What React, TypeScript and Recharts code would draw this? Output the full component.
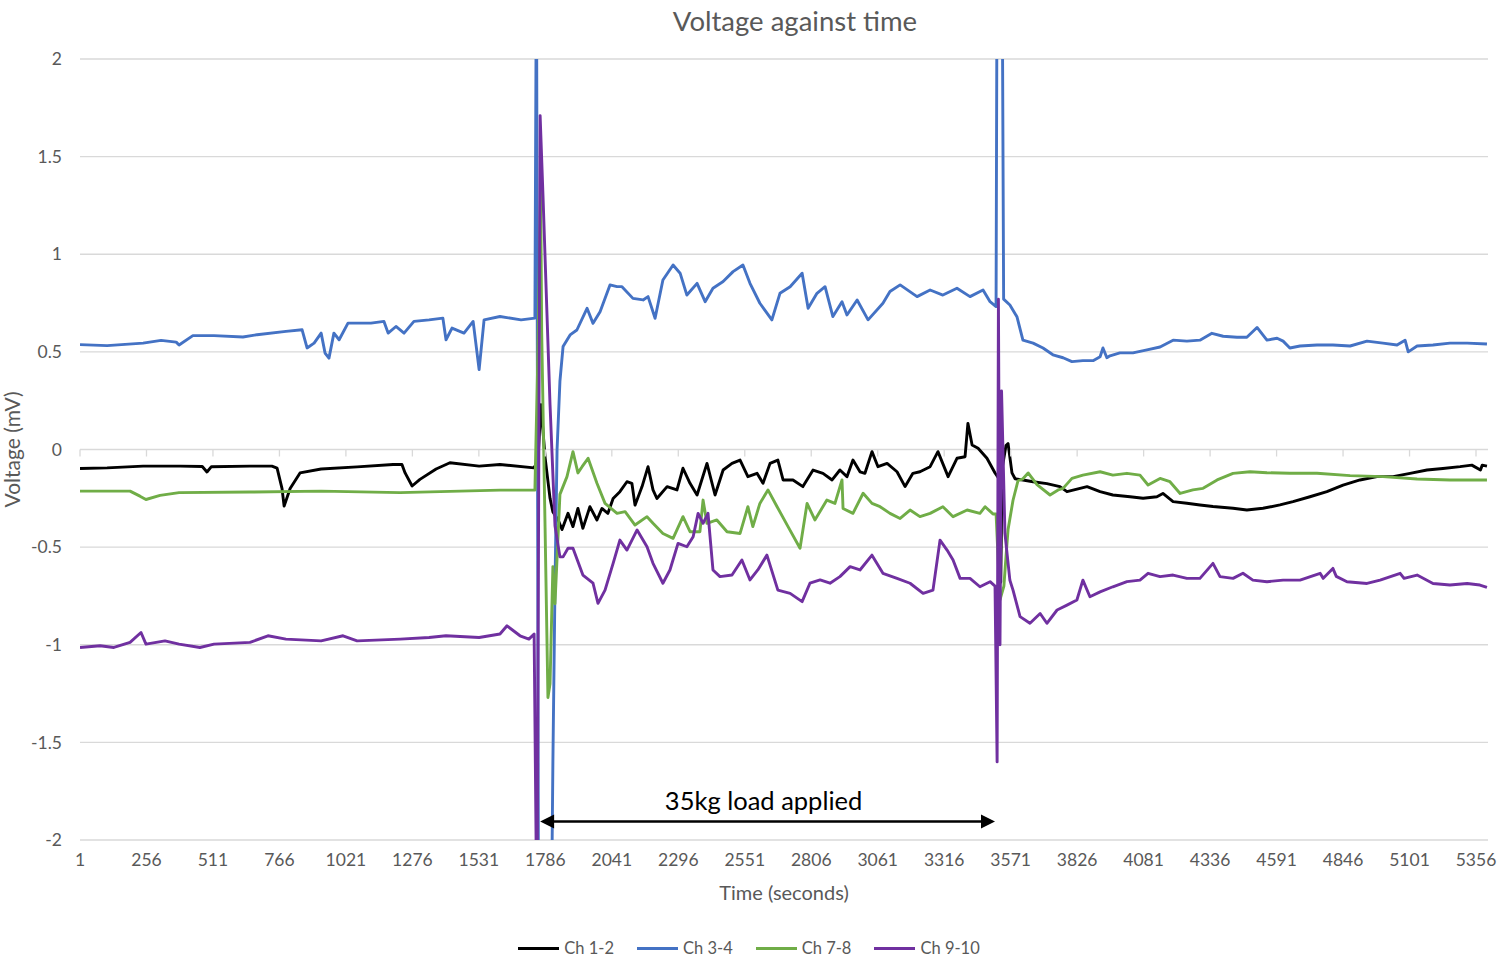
import React from "react";
import {
  LineChart,
  Line,
  XAxis,
  YAxis,
  CartesianGrid,
  Legend,
  Label,
  ReferenceLine,
} from "recharts";

// readings taken off the original plot, time in seconds, voltage in mV
const ch12Times = [1, 105, 243, 385, 470, 488, 505, 653, 737, 757, 776, 784, 807, 845, 926, 1064, 1202, 1236, 1248, 1275, 1305, 1367, 1420, 1532, 1612, 1743, 1758, 1769, 1785, 1804, 1815, 1835, 1850, 1873, 1892, 1911, 1930, 1957, 1984, 2003, 2026, 2046, 2072, 2099, 2118, 2130, 2157, 2180, 2199, 2214, 2253, 2291, 2314, 2341, 2368, 2406, 2437, 2468, 2502, 2533, 2563, 2598, 2621, 2648, 2678, 2698, 2736, 2774, 2813, 2851, 2886, 2916, 2943, 2966, 2993, 3012, 3039, 3062, 3097, 3135, 3166, 3196, 3223, 3262, 3292, 3331, 3365, 3396, 3407, 3423, 3446, 3480, 3511, 3526, 3533, 3538, 3553, 3561, 3576, 3588, 3618, 3657, 3710, 3760, 3787, 3864, 3914, 3963, 4029, 4079, 4132, 4155, 4194, 4247, 4297, 4347, 4424, 4477, 4539, 4604, 4654, 4719, 4784, 4846, 4911, 4976, 5038, 5103, 5168, 5229, 5295, 5340, 5373, 5380, 5398];
const ch12Volts = [-0.097, -0.094, -0.085, -0.085, -0.087, -0.115, -0.088, -0.085, -0.085, -0.095, -0.2, -0.29, -0.2, -0.12, -0.1, -0.089, -0.077, -0.077, -0.12, -0.187, -0.153, -0.1, -0.068, -0.085, -0.077, -0.094, -0.05, 0.23, -0.04, -0.25, -0.32, -0.36, -0.41, -0.327, -0.395, -0.302, -0.404, -0.293, -0.361, -0.302, -0.327, -0.251, -0.216, -0.165, -0.173, -0.285, -0.19, -0.088, -0.207, -0.251, -0.19, -0.207, -0.096, -0.173, -0.233, -0.071, -0.233, -0.105, -0.071, -0.054, -0.139, -0.122, -0.173, -0.071, -0.054, -0.156, -0.156, -0.19, -0.105, -0.122, -0.156, -0.105, -0.139, -0.054, -0.114, -0.122, -0.011, -0.088, -0.071, -0.114, -0.19, -0.122, -0.114, -0.088, -0.011, -0.139, -0.045, -0.037, 0.134, 0.023, 0.006, -0.045, -0.12, -0.15, -0.68, -0.1, 0.02, 0.03, -0.12, -0.15, -0.156, -0.165, -0.175, -0.19, -0.216, -0.19, -0.216, -0.233, -0.242, -0.25, -0.242, -0.225, -0.267, -0.275, -0.284, -0.292, -0.301, -0.31, -0.301, -0.284, -0.267, -0.242, -0.216, -0.182, -0.156, -0.139, -0.139, -0.122, -0.105, -0.097, -0.088, -0.08, -0.105, -0.08, -0.085];

const ch34Times = [1, 105, 243, 312, 370, 381, 434, 515, 626, 680, 791, 853, 872, 899, 926, 941, 956, 975, 995, 1029, 1117, 1167, 1183, 1213, 1244, 1282, 1340, 1393, 1405, 1428, 1474, 1509, 1532, 1551, 1612, 1693, 1746, 1752, 1760, 1808, 1815, 1823, 1831, 1842, 1854, 1881, 1907, 1946, 1969, 1996, 2034, 2061, 2080, 2122, 2161, 2180, 2207, 2237, 2276, 2303, 2329, 2368, 2399, 2429, 2468, 2506, 2544, 2571, 2609, 2655, 2686, 2725, 2771, 2794, 2828, 2859, 2889, 2924, 2943, 2982, 3024, 3081, 3108, 3147, 3212, 3262, 3311, 3365, 3415, 3465, 3492, 3515, 3519, 3538, 3544, 3568, 3595, 3618, 3657, 3695, 3733, 3772, 3806, 3848, 3887, 3914, 3925, 3940, 3952, 3990, 4040, 4094, 4144, 4194, 4247, 4297, 4343, 4386, 4439, 4477, 4516, 4554, 4593, 4616, 4642, 4681, 4746, 4807, 4873, 4938, 4999, 5053, 5084, 5096, 5130, 5191, 5256, 5322, 5398];
const ch34Volts = [0.537, 0.532, 0.545, 0.559, 0.55, 0.535, 0.583, 0.583, 0.576, 0.588, 0.605, 0.613, 0.52, 0.545, 0.596, 0.494, 0.468, 0.596, 0.562, 0.647, 0.647, 0.656, 0.596, 0.63, 0.596, 0.656, 0.664, 0.673, 0.562, 0.622, 0.596, 0.656, 0.409, 0.664, 0.681, 0.664, 0.673, 2.6, -2.6, -2.6, -1.6, -0.7, 0.0, 0.35, 0.527, 0.587, 0.612, 0.723, 0.646, 0.706, 0.843, 0.834, 0.834, 0.774, 0.766, 0.783, 0.672, 0.868, 0.945, 0.903, 0.791, 0.851, 0.757, 0.826, 0.86, 0.911, 0.945, 0.851, 0.749, 0.664, 0.8, 0.834, 0.903, 0.723, 0.8, 0.834, 0.681, 0.757, 0.689, 0.766, 0.664, 0.749, 0.809, 0.843, 0.783, 0.817, 0.791, 0.826, 0.783, 0.817, 0.757, 0.732, 2.6, 2.6, 0.77, 0.74, 0.68, 0.56, 0.545, 0.52, 0.485, 0.47, 0.45, 0.455, 0.455, 0.475, 0.52, 0.47, 0.48, 0.495, 0.495, 0.51, 0.525, 0.56, 0.555, 0.56, 0.595, 0.58, 0.575, 0.575, 0.625, 0.56, 0.57, 0.555, 0.52, 0.53, 0.535, 0.535, 0.53, 0.555, 0.545, 0.535, 0.56, 0.5, 0.53, 0.535, 0.545, 0.545, 0.54];

const ch78Times = [1, 193, 231, 254, 308, 381, 653, 926, 1229, 1612, 1746, 1756, 1768, 1772, 1785, 1796, 1804, 1815, 1823, 1842, 1869, 1892, 1911, 1927, 1950, 1984, 2015, 2061, 2092, 2130, 2176, 2199, 2237, 2276, 2314, 2341, 2379, 2391, 2406, 2444, 2483, 2533, 2563, 2582, 2609, 2640, 2675, 2717, 2763, 2790, 2820, 2866, 2897, 2924, 2928, 2966, 3005, 3039, 3070, 3108, 3147, 3185, 3223, 3262, 3311, 3350, 3404, 3453, 3473, 3503, 3515, 3530, 3545, 3553, 3561, 3580, 3599, 3618, 3638, 3672, 3722, 3753, 3772, 3806, 3848, 3914, 3963, 4017, 4067, 4098, 4144, 4182, 4221, 4270, 4309, 4363, 4424, 4489, 4554, 4642, 4746, 4873, 4999, 5130, 5256, 5398];
const ch78Volts = [-0.213, -0.213, -0.239, -0.256, -0.235, -0.221, -0.218, -0.213, -0.221, -0.208, -0.208, 0.4, 1.33, 0.6, -0.4, -1.27, -1.2, -0.6, -0.79, -0.23, -0.139, -0.011, -0.12, -0.088, -0.045, -0.173, -0.276, -0.327, -0.318, -0.387, -0.344, -0.378, -0.43, -0.455, -0.344, -0.421, -0.421, -0.259, -0.378, -0.361, -0.421, -0.43, -0.293, -0.395, -0.276, -0.207, -0.293, -0.395, -0.506, -0.276, -0.361, -0.259, -0.276, -0.156, -0.302, -0.327, -0.224, -0.276, -0.293, -0.327, -0.353, -0.31, -0.344, -0.327, -0.293, -0.344, -0.31, -0.327, -0.293, -0.33, -0.33, -0.77, -0.7, -0.55, -0.41, -0.26, -0.16, -0.15, -0.12, -0.18, -0.233, -0.207, -0.199, -0.148, -0.131, -0.114, -0.131, -0.122, -0.131, -0.182, -0.148, -0.165, -0.225, -0.207, -0.199, -0.156, -0.122, -0.114, -0.119, -0.122, -0.122, -0.134, -0.139, -0.151, -0.156, -0.156];

const ch910Times = [1, 78, 131, 193, 235, 254, 327, 381, 461, 515, 653, 722, 791, 926, 1010, 1064, 1229, 1340, 1405, 1532, 1612, 1639, 1689, 1723, 1743, 1754, 1766, 1777, 1804, 1823, 1842, 1854, 1873, 1892, 1930, 1969, 1988, 2015, 2046, 2072, 2099, 2138, 2176, 2199, 2237, 2264, 2295, 2329, 2353, 2372, 2391, 2410, 2429, 2456, 2502, 2540, 2571, 2601, 2636, 2678, 2725, 2771, 2801, 2840, 2878, 2916, 2955, 2993, 3039, 3081, 3135, 3185, 3235, 3273, 3300, 3327, 3350, 3377, 3415, 3453, 3492, 3511, 3519, 3524, 3530, 3536, 3549, 3568, 3580, 3607, 3645, 3684, 3710, 3749, 3787, 3825, 3848, 3875, 3914, 3963, 4017, 4067, 4098, 4144, 4194, 4247, 4297, 4347, 4374, 4424, 4462, 4500, 4554, 4616, 4681, 4758, 4770, 4807, 4820, 4861, 4938, 4988, 5065, 5080, 5130, 5191, 5256, 5322, 5371, 5398];
const ch910Volts = [-1.014, -1.005, -1.014, -0.988, -0.937, -0.997, -0.98, -0.997, -1.014, -0.997, -0.988, -0.954, -0.971, -0.98, -0.954, -0.98, -0.971, -0.963, -0.954, -0.963, -0.945, -0.903, -0.954, -0.971, -0.945, -2.5, 1.71, 1.3, 0.23, -0.39, -0.55, -0.55, -0.506, -0.506, -0.643, -0.685, -0.788, -0.72, -0.583, -0.464, -0.515, -0.412, -0.498, -0.583, -0.685, -0.617, -0.481, -0.498, -0.447, -0.327, -0.378, -0.327, -0.617, -0.651, -0.643, -0.566, -0.668, -0.617, -0.541, -0.72, -0.737, -0.779, -0.685, -0.668, -0.685, -0.651, -0.6, -0.617, -0.541, -0.634, -0.66, -0.685, -0.737, -0.72, -0.464, -0.515, -0.566, -0.66, -0.66, -0.703, -0.677, -0.7, -1.6, 0.77, -1.0, 0.3, -0.43, -0.67, -0.72, -0.856, -0.89, -0.84, -0.89, -0.822, -0.797, -0.771, -0.669, -0.754, -0.729, -0.703, -0.677, -0.669, -0.634, -0.651, -0.643, -0.66, -0.66, -0.583, -0.651, -0.66, -0.634, -0.669, -0.677, -0.669, -0.669, -0.634, -0.66, -0.609, -0.65, -0.677, -0.686, -0.669, -0.634, -0.66, -0.643, -0.686, -0.694, -0.686, -0.694, -0.706];

const timeTicks = [1, 256, 511, 766, 1021, 1276, 1531, 1786, 2041, 2296, 2551, 2806, 3061, 3316, 3571, 3826, 4081, 4336, 4591, 4846, 5101, 5356];
const voltTicks = [-2, -1.5, -1, -0.5, 0, 0.5, 1, 1.5, 2];

// load applied between these two times (the arrow under the traces)
const loadStart = 1766;
const loadEnd = 3511;
const loadArrowLevel = -1.905;
const loadText = "35kg load applied";

const zip = (times: number[], volts: number[]) => times.map((t, i) => ({ t, v: volts[i] }));

const SERIES = [
  { name: "Ch 1-2", color: "#000000", data: zip(ch12Times, ch12Volts) },
  { name: "Ch 3-4", color: "#4472C4", data: zip(ch34Times, ch34Volts) },
  { name: "Ch 7-8", color: "#70AD47", data: zip(ch78Times, ch78Volts) },
  { name: "Ch 9-10", color: "#7030A0", data: zip(ch910Times, ch910Volts) },
];

const W = 1499;
const H = 962;
const TOP = 59;
const PLOT_H = 781;
const ZERO_Y = TOP + PLOT_H / 2;
const GREY = "#595959";
const GRID = "#d9d9d9";
const FONT = "Lato, 'Open Sans', sans-serif";

function TimeTick({ x, y, payload }: any) {
  return (
    <g>
      <line x1={x} x2={x} y1={ZERO_Y} y2={ZERO_Y + 7} stroke={GRID} strokeWidth={1.3} />
      <text x={x} y={y} dy={24} textAnchor="middle" fill={GREY} fontSize={17.5}>
        {payload.value}
      </text>
    </g>
  );
}

function LoadArrow({ x1, y1, x2 }: any) {
  const head = 14;
  const half = 7;
  return (
    <g>
      <line x1={x1 + head - 2} x2={x2 - head + 2} y1={y1} y2={y1} stroke="#000" strokeWidth={2.6} />
      <polygon points={`${x1},${y1} ${x1 + head},${y1 - half} ${x1 + head},${y1 + half}`} fill="#000" />
      <polygon points={`${x2},${y1} ${x2 - head},${y1 - half} ${x2 - head},${y1 + half}`} fill="#000" />
      <text x={(x1 + x2) / 2 - 4} y={y1 - 11} textAnchor="middle" fill="#000" fontSize={25.5}>
        {loadText}
      </text>
    </g>
  );
}

function ChannelLegend() {
  return (
    <div style={{ display: "flex", justifyContent: "center", gap: 23, paddingTop: 16, paddingLeft: 10 }}>
      {SERIES.map((s) => (
        <div key={s.name} style={{ display: "flex", alignItems: "center", gap: 5, color: GREY, fontSize: 16.5 }}>
          <span style={{ display: "inline-block", width: 41, height: 3, background: s.color }} />
          <span>{s.name}</span>
        </div>
      ))}
    </div>
  );
}

export default function App() {
  return (
    <div style={{ position: "absolute", left: 0, top: 0, width: W, height: H, background: "#fff", fontFamily: FONT }}>
      <div
        style={{
          position: "absolute",
          top: 4,
          left: 795,
          transform: "translateX(-50%)",
          fontSize: 27.5,
          color: GREY,
          whiteSpace: "nowrap",
        }}
      >
        Voltage against time
      </div>
      <LineChart width={W} height={H} margin={{ top: TOP, right: 11, bottom: 0, left: 0 }} style={{ fontFamily: FONT }}>
        <CartesianGrid vertical={false} stroke={GRID} strokeWidth={1.3} />
        <XAxis
          dataKey="t"
          type="number"
          domain={[1, 5402]}
          ticks={timeTicks}
          allowDataOverflow
          axisLine={false}
          tickLine={false}
          tickSize={0}
          tick={<TimeTick />}
          height={82}
          interval={0}
        >
          <Label value="Time (seconds)" position="insideBottom" offset={22} fill={GREY} fontSize={20} />
        </XAxis>
        <YAxis
          type="number"
          domain={[-2, 2]}
          ticks={voltTicks}
          allowDataOverflow
          axisLine={false}
          tickLine={false}
          tickSize={0}
          tickMargin={18}
          width={80}
          tick={{ fill: GREY, fontSize: 17.5 }}
        >
          <Label value="Voltage (mV)" angle={-90} position="insideLeft" offset={13} fill={GREY} fontSize={21} style={{ textAnchor: "middle" }} />
        </YAxis>
        {SERIES.map((s) => (
          <Line
            key={s.name}
            data={s.data}
            dataKey="v"
            name={s.name}
            type="linear"
            stroke={s.color}
            strokeWidth={2.9}
            strokeLinejoin="round"
            dot={false}
            activeDot={false}
            isAnimationActive={false}
          />
        ))}
        <ReferenceLine
          segment={[
            { x: loadStart, y: loadArrowLevel },
            { x: loadEnd, y: loadArrowLevel },
          ]}
          shape={<LoadArrow />}
          ifOverflow="visible"
        />
        <Legend verticalAlign="bottom" height={40} content={<ChannelLegend />} />
      </LineChart>
    </div>
  );
}
